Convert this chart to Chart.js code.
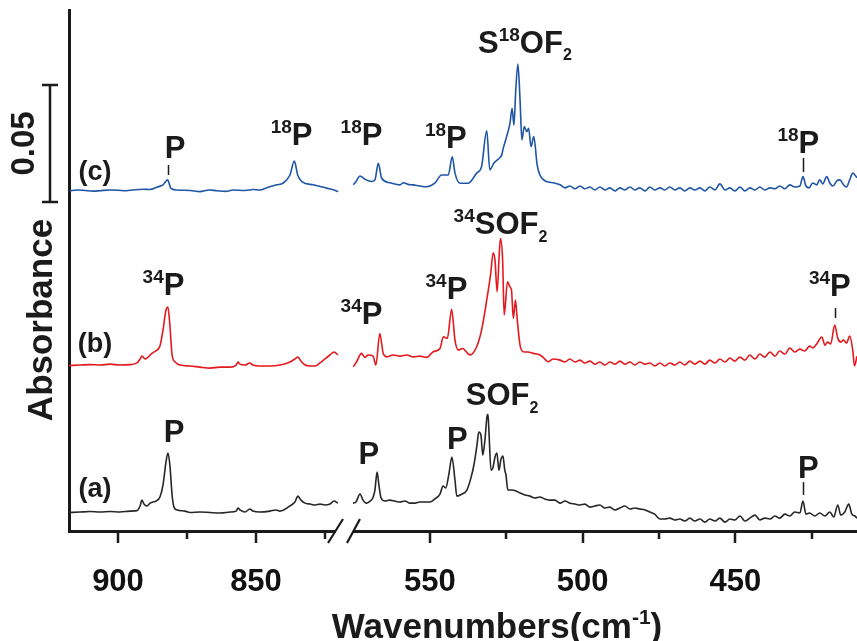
<!DOCTYPE html>
<html>
<head>
<meta charset="utf-8">
<script src="https://cdn.jsdelivr.net/npm/chart.js@4.4.1/dist/chart.umd.min.js"></script>
<style>
  html, body { margin: 0; padding: 0; background: #fff; }
  #wrap { width: 857px; height: 641px; position: relative; }
</style>
</head>
<body>
<div id="wrap"><canvas id="ir"></canvas></div>
<script>
// IR spectra, [wavenumber, absorbance] pairs.
// (a) SOF2
const aLeft = [[917.8,-0.0002],[913.8,0],[910.1,0.0002],[906.5,0],[902.9,0.0002],[899.3,0],[895.7,0.0004],[893.1,0.0006],[892.0,0.0026],[891.3,0.0051],[890.6,0.0034],[889.5,0.0026],[888.4,0.0038],[887.3,0.0043],[886.2,0.0047],[884.8,0.0064],[883.7,0.0115],[882.6,0.0214],[881.9,0.0252],[881.2,0.0201],[880.4,0.0073],[879.7,0.0021],[878.6,0.0009],[875.7,0.0004],[873.9,-0.0002],[870.3,0],[866.7,-0.0002],[863.0,-0.0004],[859.4,0],[857.2,0.0004],[856.5,0.0017],[855.8,0.0009],[854.0,0],[852.2,0.0013],[851.1,0.0004],[848.6,0],[844.9,0.0004],[842.8,0.0009],[841.3,0.0004],[837.7,0.0026],[835.9,0.0043],[834.8,0.0068],[833.7,0.0051],[832.2,0.0038],[830.4,0.0034],[828.6,0.0030],[826.8,0.0034],[825.0,0.0030],[823.2,0.0034],[821.7,0.0047],[820.3,0.0038]];
const aRight = [[575.2,0.0038],[574.2,0.0043],[572.9,0.0077],[571.9,0.0051],[570.9,0.0038],[569.6,0.0047],[568.7,0.0060],[568.0,0.0094],[567.3,0.0171],[566.7,0.0115],[566.0,0.0060],[564.7,0.0047],[563.1,0.0051],[561.5,0.0047],[559.8,0.0043],[558.2,0.0047],[556.5,0.0038],[554.9,0.0038],[553.3,0.0043],[551.6,0.0043],[550.0,0.0043],[548.4,0.0056],[546.7,0.0077],[545.7,0.0111],[544.8,0.0103],[543.8,0.0162],[542.8,0.0235],[541.8,0.0137],[541.2,0.0068],[539.5,0.0077],[537.9,0.0094],[536.6,0.0145],[535.6,0.0201],[534.6,0.0286],[534.0,0.0342],[533.3,0.0329],[532.7,0.0243],[532.0,0.0307],[531.3,0.0410],[531.0,0.0418],[530.7,0.0350],[530.0,0.0179],[529.4,0.0188],[528.7,0.0235],[528.1,0.0252],[527.4,0.0179],[526.8,0.0222],[526.1,0.0239],[525.5,0.0179],[525.1,0.0158],[524.5,0.0094],[523.2,0.0094],[521.8,0.0090],[520.5,0.0081],[518.9,0.0073],[517.3,0.0068],[515.6,0.0060],[514.0,0.0064],[512.4,0.0056],[510.7,0.0051],[509.1,0.0051],[507.4,0.0038],[505.8,0.0047],[504.2,0.0038],[502.5,0.0034],[500.9,0.0030],[499.3,0.0034],[497.6,0.0021],[496.0,0.0026],[494.4,0.0030],[492.7,0.0017],[491.1,0.0021],[489.4,0.0009],[487.8,0.0017],[486.2,0.0026],[484.5,0.0013],[482.9,0.0017],[481.3,0.0013],[479.6,0.0009],[478.0,0],[476.4,-0.0009],[474.7,-0.0030],[473.1,-0.0030],[471.5,-0.0026],[469.8,-0.0034],[468.2,-0.0030],[466.6,-0.0038],[464.9,-0.0026],[463.3,-0.0038],[461.6,-0.0030],[460.0,-0.0043],[458.4,-0.0030],[456.7,-0.0038],[455.1,-0.0026],[453.4,-0.0043],[451.8,-0.0030],[450.2,-0.0034],[448.5,-0.0017],[446.9,-0.0038],[445.3,-0.0026],[443.6,-0.0013],[442.0,-0.0034],[440.4,-0.0026],[438.7,-0.0030],[437.1,-0.0017],[435.5,-0.0026],[433.8,-0.0009],[432.2,-0.0017],[430.6,0],[428.9,-0.0004],[427.9,0.0047],[426.9,-0.0009],[425.7,-0.0004],[424.0,-0.0017],[422.4,-0.0004],[420.7,-0.0017],[419.1,0],[417.8,-0.0021],[416.5,0.0030],[415.5,-0.0013],[414.2,0],[412.9,0.0034],[411.9,-0.0009],[410.9,-0.0017],[410.2,-0.0026]];
// (b) 34SOF2
const bLeft = [[917.8,-0.0002],[913.8,0],[910.1,0.0002],[906.5,0],[902.9,0.0004],[899.3,0],[895.7,0.0002],[893.1,0.0009],[892.0,0.0026],[891.3,0.0038],[890.2,0.0026],[889.1,0.0034],[888.0,0.0047],[886.9,0.0056],[885.9,0.0064],[884.8,0.0081],[883.7,0.0149],[882.6,0.0235],[881.9,0.0248],[881.2,0.0171],[880.4,0.0043],[879.3,0.0013],[877.5,0],[873.9,-0.0004],[870.3,-0.0009],[866.7,-0.0013],[863.0,-0.0009],[859.4,-0.0009],[857.2,0],[856.5,0.0013],[855.8,0.0004],[854.0,0],[852.2,0.0009],[851.1,0],[848.6,-0.0004],[844.9,-0.0004],[841.3,0],[837.7,0.0013],[835.9,0.0026],[834.8,0.0034],[833.7,0.0017],[832.2,0],[830.4,-0.0004],[828.6,-0.0004],[826.8,0.0009],[825.0,0.0026],[823.2,0.0043],[821.7,0.0056],[820.3,0.0043]];
const bRight = [[575.1,-0.0007],[574.0,0.0014],[572.4,0.0050],[571.3,0.0033],[570.2,0.0043],[568.6,0.0038],[567.7,0],[566.4,0.0135],[565.3,0.0050],[564.2,0.0035],[562.1,0.0043],[559.8,0.0038],[557.5,0.0043],[555.5,0.0035],[553.3,0.0038],[551.1,0.0033],[548.9,0.0057],[546.7,0.0071],[545.6,0.0121],[544.3,0.0114],[542.9,0.0238],[541.8,0.0107],[540.7,0.0064],[539.3,0.0071],[536.9,0.0043],[534.7,0.0078],[533.1,0.0149],[531.4,0.0278],[530.1,0.0392],[529.3,0.0480],[528.7,0.0448],[528.0,0.0313],[527.3,0.0477],[526.9,0.0541],[526.2,0.0448],[525.7,0.0214],[524.6,0.0356],[523.8,0.0334],[523.3,0.0320],[522.7,0.0199],[522.0,0.0278],[521.4,0.0192],[520.5,0.0085],[519.5,0.0057],[517.9,0.0056],[516.2,0.0050],[514.0,0.0043],[512.7,0.0030],[511.3,0.0014],[509.7,0.0026],[507.4,0.0021],[505.8,0.0013],[504.2,0.0026],[502.5,0.0013],[500.9,0.0021],[499.3,0.0009],[497.6,0.0017],[496.0,0.0004],[494.4,0.0013],[492.7,0],[491.1,0.0013],[489.4,0.0004],[487.8,0.0017],[486.2,0.0004],[484.5,0.0013],[482.9,0],[481.3,0.0013],[479.6,0.0004],[478.0,0.0009],[476.4,-0.0004],[474.7,0.0009],[473.1,-0.0004],[471.5,0.0009],[469.8,0],[468.2,0.0013],[466.6,0],[464.9,0.0017],[463.3,0.0004],[461.6,0.0017],[460.0,0.0004],[458.4,0.0021],[456.7,0.0009],[455.1,0.0026],[453.4,0.0013],[451.8,0.0030],[450.2,0.0017],[448.5,0.0034],[446.9,0.0021],[445.3,0.0043],[443.6,0.0026],[442.0,0.0047],[440.4,0.0034],[438.7,0.0056],[437.1,0.0038],[435.5,0.0060],[433.8,0.0047],[432.2,0.0073],[430.6,0.0056],[428.9,0.0068],[427.3,0.0060],[425.7,0.0081],[424.7,0.0073],[423.4,0.0090],[421.7,0.0120],[420.7,0.0085],[419.8,0.0098],[418.8,0.0090],[417.5,0.0171],[416.5,0.0115],[415.5,0.0098],[414.6,0.0107],[413.6,0.0094],[412.6,0.0124],[411.6,0.0064],[411.0,-0.0004],[410.2,0.0038]];
// (c) S18OF2
const cLeft = [[917.4,0],[915.0,0.0004],[912.0,0.0002],[909.0,-0.0001],[906.5,0.0001],[903.0,0.0004],[900.0,0.0003],[897.0,0.0001],[894.6,0.0004],[891.0,0.0007],[888.4,0.0006],[885.9,0.0016],[883.7,0.0026],[882.0,0.0047],[880.9,0.0012],[878.7,0.0004],[873.9,0.0002],[870.3,-0.0003],[867.0,0.0004],[864.2,0.0001],[861.0,-0.0002],[858.3,0.0004],[854.0,0.0002],[851.0,0.0006],[848.6,0.0004],[846.1,0.0014],[842.5,0.0026],[840.2,0.0033],[837.7,0.0068],[836.1,0.0128],[834.9,0.0068],[833.4,0.0040],[829.2,0.0026],[827.0,0.0020],[824.4,0.0012],[822.0,0.0005],[820.2,-0.0003]];
const cRight = [[575.1,0.0026],[574.2,0.0040],[572.9,0.0064],[571.3,0.0050],[569.1,0.0040],[568.0,0.0047],[566.9,0.0118],[565.8,0.0054],[563.1,0.0035],[559.8,0.0026],[558.7,0.0035],[557.2,0.0028],[555.5,0.0026],[553.3,0.0021],[551.1,0.0018],[548.4,0.0033],[546.2,0.0068],[544.0,0.0068],[542.7,0.0146],[541.8,0.0076],[540.2,0.0033],[537.5,0.0033],[534.7,0.0076],[533.1,0.0104],[531.4,0.0257],[530.4,0.0090],[529.1,0.0118],[527.3,0.0140],[526.5,0.0154],[526.0,0.0182],[524.9,0.0232],[523.8,0.0289],[523.1,0.0353],[522.5,0.0282],[521.9,0.0431],[521.2,0.0542],[520.5,0.0389],[519.9,0.0218],[519.1,0.0275],[518.3,0.0253],[517.7,0.0268],[516.9,0.0189],[516.0,0.0232],[514.9,0.0111],[514.0,0.0068],[511.8,0.0040],[509.6,0.0035],[507.4,0.0026],[505.8,0.0013],[504.2,0.0021],[502.5,0.0009],[500.9,0.0021],[499.3,0.0009],[497.6,0.0017],[496.0,0.0004],[494.4,0.0017],[492.7,0.0004],[491.1,0.0013],[489.4,0],[487.8,0.0013],[486.2,0.0004],[484.5,0.0017],[482.9,0.0004],[481.3,0.0013],[479.6,0],[478.0,0.0017],[476.4,0.0004],[474.7,0.0013],[473.1,0.0004],[471.5,0.0017],[469.8,0.0004],[468.2,0.0013],[466.6,0],[464.9,0.0013],[463.3,0.0004],[461.6,0.0013],[460.0,0],[458.4,0.0017],[456.7,0.0004],[455.1,0.0030],[453.4,0.0004],[451.8,0.0013],[450.2,0],[448.5,0.0017],[446.9,0],[445.3,0.0013],[443.6,0.0004],[442.0,0.0017],[440.4,0.0004],[438.7,0.0013],[437.1,0.0009],[435.5,0.0021],[433.8,0.0009],[432.2,0.0026],[430.6,0.0017],[428.9,0.0021],[427.9,0.0061],[426.9,0.0021],[425.9,0.0013],[424.7,0.0034],[423.4,0.0026],[422.4,0.0047],[421.4,0.0030],[420.1,0.0061],[419.1,0.0034],[418.1,0.0021],[416.8,0.0043],[415.8,0.0047],[414.6,0.0026],[413.6,0.0017],[412.6,0.0047],[411.6,0.0076],[410.2,0.0056]];

// vertical offsets of the stacked traces (a), (b), (c)
const traceNames = ["(a)", "(b)", "(c)"];
const traceOffsets = [0.0081, 0.0709, 0.1453];
const traceNameAbs = [0.0175, 0.0795, 0.1530];
const traceNameWn = 908.3;

// axis windows and ticks
const leftRange = [817.75, 917.75];
const rightRange = [410.2, 577.8];
const leftTicks = [900, 875, 850, 825];
const rightTicks = [550, 525, 500, 475, 450, 425];
const labelledTicks = [900, 850, 550, 500, 450];
const absRange = [0, 0.2226];
const scaleBar = [0.1406, 0.1906]; // 0.05 absorbance

// peak labels: axis, wavenumber, absorbance of text centre
const peakLabels = [
  { axis: "xL", wn: 879.3, abs: 0.1641, text: "P" },
  { axis: "xL", wn: 837.1, abs: 0.1697, text: "^{18}P" },
  { axis: "xR", wn: 572.4, abs: 0.1697, text: "^{18}P" },
  { axis: "xR", wn: 544.8, abs: 0.1684, text: "^{18}P" },
  { axis: "xR", wn: 518.9, abs: 0.2090, text: "S^{18}OF_{2}" },
  { axis: "xR", wn: 429.4, abs: 0.1662, text: "^{18}P" },
  { axis: "xL", wn: 883.5, abs: 0.1056, text: "^{34}P" },
  { axis: "xR", wn: 572.4, abs: 0.0932, text: "^{34}P" },
  { axis: "xR", wn: 544.6, abs: 0.1038, text: "^{34}P" },
  { axis: "xR", wn: 526.9, abs: 0.1316, text: "^{34}SOF_{2}" },
  { axis: "xR", wn: 419.1, abs: 0.1051, text: "^{34}P" },
  { axis: "xL", wn: 879.7, abs: 0.0427, text: "P" },
  { axis: "xR", wn: 570.0, abs: 0.0333, text: "P" },
  { axis: "xR", wn: 541.0, abs: 0.0397, text: "P" },
  { axis: "xR", wn: 526.4, abs: 0.0585, text: "SOF_{2}" },
  { axis: "xR", wn: 426.1, abs: 0.0274, text: "P" },
];
const peakMarkers = [
  { axis: "xL", wn: 881.9, from: 0.1521, to: 0.1564 },
  { axis: "xR", wn: 427.9, from: 0.1534, to: 0.1594 },
  { axis: "xR", wn: 417.5, from: 0.0910, to: 0.0953 },
  { axis: "xR", wn: 427.9, from: 0.0154, to: 0.0209 },
];

const FONT = "'Liberation Sans', Arial, sans-serif";
const INK = "#1b1b1b";
const colors = ["#262626", "#e3191e", "#1f55a5"];

const drawRich = (ctx, text, cx, cy, size) => {
  const segs = [];
  const re = /\^\{([^}]*)\}|_\{([^}]*)\}|([^^_]+)/g;
  let m;
  while ((m = re.exec(text)) !== null) {
    if (m[1] !== undefined) segs.push({ t: m[1], s: Math.round(size * 0.6), dy: -size * 0.4 });
    else if (m[2] !== undefined) segs.push({ t: m[2], s: Math.round(size * 0.52), dy: size * 0.24 });
    else segs.push({ t: m[3], s: size, dy: 0 });
  }
  let total = 0;
  segs.forEach((sg) => {
    ctx.font = "bold " + sg.s + "px " + FONT;
    sg.w = ctx.measureText(sg.t).width;
    total += sg.w;
  });
  let x = cx - total / 2;
  const base = cy + size * 0.358;
  ctx.textAlign = "left";
  ctx.textBaseline = "alphabetic";
  segs.forEach((sg) => {
    ctx.font = "bold " + sg.s + "px " + FONT;
    ctx.fillText(sg.t, x, base + sg.dy);
    x += sg.w;
  });
};

const decorations = {
  id: "decorations",
  afterDraw(chart) {
    const { ctx, chartArea, scales } = chart;
    const y = scales.y;
    const bottom = chartArea.bottom;
    ctx.save();
    ctx.strokeStyle = INK;
    ctx.fillStyle = INK;

    // tick marks, major ones longer
    ctx.lineWidth = 2.5;
    [scales.xL, scales.xR].forEach((sc) => {
      sc.ticks.forEach((t) => {
        const px = Math.round(sc.getPixelForValue(t.value));
        const len = labelledTicks.includes(t.value) ? 12 : 8;
        ctx.beginPath();
        ctx.moveTo(px, bottom);
        ctx.lineTo(px, bottom + len);
        ctx.stroke();
      });
    });

    // axis break
    const bx = scales.xL.right;
    ctx.fillStyle = "#fff";
    ctx.fillRect(bx - 9, bottom - 3, 17, 6);
    ctx.fillStyle = INK;
    ctx.lineWidth = 2.2;
    ctx.beginPath();
    ctx.moveTo(bx - 17, bottom + 12);
    ctx.lineTo(bx - 2, bottom - 12);
    ctx.moveTo(bx + 2, bottom + 12);
    ctx.lineTo(bx + 15, bottom - 12);
    ctx.stroke();

    // 0.05 scale bar
    const sbTop = y.getPixelForValue(scaleBar[1]);
    const sbBot = y.getPixelForValue(scaleBar[0]);
    ctx.lineWidth = 2.5;
    ctx.beginPath();
    ctx.moveTo(50, sbTop); ctx.lineTo(50, sbBot);
    ctx.moveTo(42, sbTop); ctx.lineTo(58, sbTop);
    ctx.moveTo(42, sbBot); ctx.lineTo(58, sbBot);
    ctx.stroke();

    ctx.textAlign = "center";
    ctx.textBaseline = "middle";
    ctx.save();
    ctx.translate(24, (sbTop + sbBot) / 2);
    ctx.rotate(-Math.PI / 2);
    ctx.font = "bold 33px " + FONT;
    ctx.fillText((scaleBar[1] - scaleBar[0]).toFixed(2), 0, 1);
    ctx.restore();

    // axis titles
    ctx.save();
    ctx.translate(41, 320);
    ctx.rotate(-Math.PI / 2);
    ctx.font = "bold 35px " + FONT;
    ctx.fillText("Absorbance", 0, 1);
    ctx.restore();
    drawRich(ctx, "Wavenumbers(cm^{-1})", 497, 625, 35);

    // trace names
    ctx.font = "bold 27px " + FONT;
    ctx.textAlign = "center";
    ctx.textBaseline = "middle";
    traceNames.forEach((n, i) => {
      ctx.fillText(n, scales.xL.getPixelForValue(traceNameWn), y.getPixelForValue(traceNameAbs[i]));
    });

    // peak labels and marker ticks
    peakLabels.forEach((l) => {
      drawRich(ctx, l.text, scales[l.axis].getPixelForValue(l.wn), y.getPixelForValue(l.abs), 31);
    });
    ctx.lineWidth = 1.5;
    peakMarkers.forEach((mk) => {
      const px = Math.round(scales[mk.axis].getPixelForValue(mk.wn)) + 0.5;
      ctx.beginPath();
      ctx.moveTo(px, y.getPixelForValue(mk.from));
      ctx.lineTo(px, y.getPixelForValue(mk.to));
      ctx.stroke();
    });
    ctx.restore();
  },
};

const series = (pts, axisId, i) => ({
  data: pts.map(([w, a]) => ({ x: w, y: a + traceOffsets[i] })),
  xAxisID: axisId,
  yAxisID: "y",
  borderColor: colors[i],
  borderWidth: 1.6,
  pointRadius: 0,
  cubicInterpolationMode: "monotone",
  fill: false,
});

const xAxis = (range, weight, ticks) => ({
  type: "linear",
  position: "bottom",
  stack: "wn",
  stackWeight: weight,
  reverse: true,
  min: range[0],
  max: range[1],
  afterBuildTicks: (s) => {
    s.ticks = ticks.map((v) => ({ value: v }));
  },
  afterFit: (s) => {
    s.height = 110;
    s.paddingLeft = 0;
    s.paddingRight = 0;
  },
  grid: { display: false, drawTicks: false },
  border: { display: true, color: INK, width: 3 },
  ticks: {
    autoSkip: false,
    maxRotation: 0,
    padding: 33,
    color: "#111",
    font: { family: FONT, size: 31, weight: "bold" },
    callback: (v) => (labelledTicks.includes(v) ? String(v) : ""),
  },
});

new Chart(document.getElementById("ir"), {
  type: "line",
  data: {
    datasets: [
      series(aLeft, "xL", 0), series(aRight, "xR", 0),
      series(bLeft, "xL", 1), series(bRight, "xR", 1),
      series(cLeft, "xL", 2), series(cRight, "xR", 2),
    ],
  },
  options: {
    responsive: true,
    maintainAspectRatio: false,
    animation: false,
    layout: { padding: { left: 69, top: 10, right: 0, bottom: 0 } },
    plugins: { legend: { display: false }, tooltip: { enabled: false } },
    scales: {
      xL: xAxis(leftRange, 276, leftTicks),
      xR: xAxis(rightRange, 512, rightTicks),
      y: {
        type: "linear",
        position: "left",
        min: absRange[0],
        max: absRange[1],
        afterFit: (s) => {
          s.width = 0;
          s.paddingTop = 0;
          s.paddingBottom = 0;
        },
        grid: { display: false, drawTicks: false },
        ticks: { display: false },
        border: { display: true, color: INK, width: 3 },
      },
    },
  },
  plugins: [decorations],
});
</script>
</body>
</html>
